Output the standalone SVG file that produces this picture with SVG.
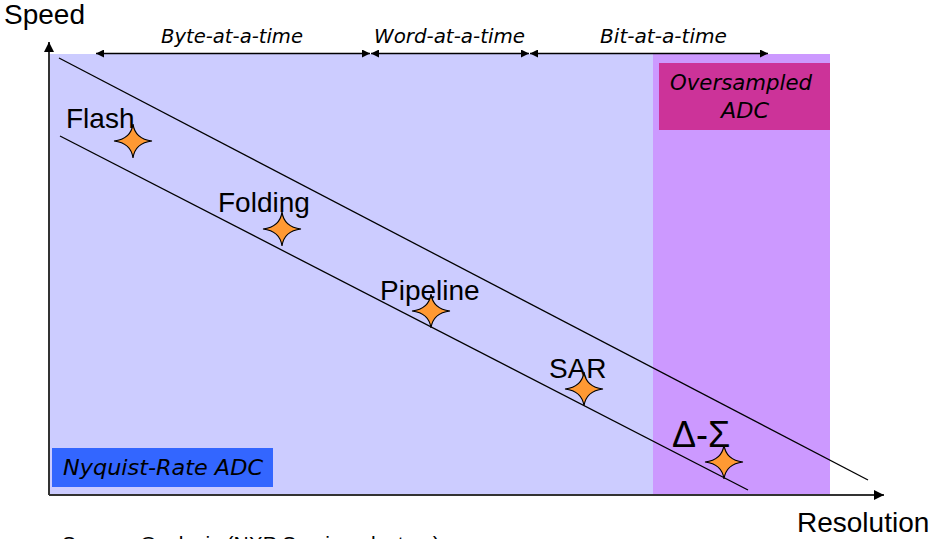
<svg xmlns="http://www.w3.org/2000/svg" width="936" height="539" viewBox="0 0 936 539">
<defs>
<style>
.lbl{font-family:"Liberation Sans",Arial,sans-serif;font-size:28px;fill:#000}
.cs{font-family:"DejaVu Sans","Liberation Sans",sans-serif;font-style:italic;font-size:19px;fill:#000}
.ln{stroke:#000;stroke-width:1.3;fill:none}
.ax{stroke:#333;stroke-width:2;fill:none}
.star{fill:#FF9933;stroke:#000;stroke-width:1.2}
</style>
<marker id="ah" viewBox="0 0 10 10" refX="10" refY="5" markerWidth="12" markerHeight="8" markerUnits="userSpaceOnUse" orient="auto-start-reverse">
<path d="M0,0 L10,5 L0,10 Z" fill="#000"/>
</marker>
<marker id="axh" viewBox="0 0 10 10" refX="10" refY="5" markerWidth="14" markerHeight="10" markerUnits="userSpaceOnUse" orient="auto">
<path d="M0,0 L10,5 L0,10 Z" fill="#000"/>
</marker>
<path id="st" d="M19,0 Q2,-2 0,-17 Q-2,-2 -19,0 Q-2,2 0,17 Q2,2 19,0 Z"/>
</defs>
<rect width="936" height="539" fill="#fff"/>
<g id="nyquist-region"><rect x="50" y="54" width="603" height="441" fill="#CCCCFF"/></g>
<g id="oversampled-region"><rect x="653" y="54" width="177" height="441" fill="#CC99FF"/></g>
<g id="oversampled-label">
<rect x="659" y="63" width="171" height="67" fill="#CC3399"/>
<text class="cs" x="670" y="90" textLength="142" lengthAdjust="spacingAndGlyphs" style="font-size:21px">Oversampled</text>
<text class="cs" x="721" y="118" textLength="48" lengthAdjust="spacingAndGlyphs" style="font-size:21px">ADC</text>
</g>
<g id="nyquist-label">
<rect x="52" y="448" width="221" height="39" fill="#3366FF"/>
<text class="cs" x="63" y="475" textLength="200" lengthAdjust="spacingAndGlyphs" style="font-size:21px">Nyquist-Rate ADC</text>
</g>
<g id="connectors">
<line class="ax" x1="49" y1="495" x2="49" y2="42" marker-end="url(#axh)"/>
<line class="ax" x1="49" y1="495" x2="884" y2="495" marker-end="url(#axh)"/>
<line class="ln" x1="59" y1="58" x2="868" y2="480"/>
<line class="ln" x1="60" y1="136" x2="748" y2="490"/>
<line class="ln" x1="96" y1="53.5" x2="370" y2="53.5" marker-start="url(#ah)" marker-end="url(#ah)"/>
<line class="ln" x1="371" y1="53.5" x2="529" y2="53.5" marker-start="url(#ah)" marker-end="url(#ah)"/>
<line class="ln" x1="530" y1="53.5" x2="768" y2="53.5" marker-start="url(#ah)" marker-end="url(#ah)"/>
</g>
<g id="range-labels">
<text class="cs" x="161" y="43" textLength="142" lengthAdjust="spacingAndGlyphs">Byte-at-a-time</text>
<text class="cs" x="374" y="43" textLength="151" lengthAdjust="spacingAndGlyphs">Word-at-a-time</text>
<text class="cs" x="600" y="43" textLength="127" lengthAdjust="spacingAndGlyphs">Bit-at-a-time</text>
</g>
<g id="axis-labels">
<text class="lbl" x="4" y="24">Speed</text>
<text class="lbl" x="797" y="532">Resolution</text>
</g>
<g id="flash"><text class="lbl" x="66" y="128">Flash</text><use href="#st" class="star" x="133" y="141"/></g>
<g id="folding"><text class="lbl" x="218" y="212">Folding</text><use href="#st" class="star" x="282" y="229"/></g>
<g id="pipeline"><text class="lbl" x="380" y="300">Pipeline</text><use href="#st" class="star" x="431" y="311"/></g>
<g id="sar"><text class="lbl" x="549" y="378">SAR</text><use href="#st" class="star" x="584" y="389"/></g>
<g id="delta-sigma"><text class="lbl" x="672" y="447" style="font-size:36px">Δ-Σ</text><use href="#st" class="star" x="724" y="462"/></g>
<g id="source"><text class="lbl" x="62" y="551" style="font-size:21px">Source: Ozalevis (NXP Semiconductors)</text></g>
</svg>
